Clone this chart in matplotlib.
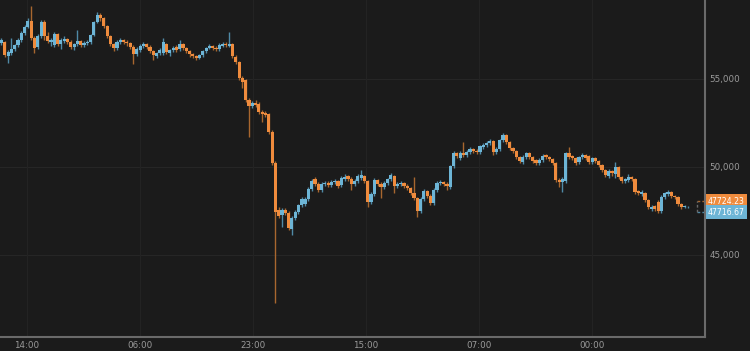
import matplotlib
matplotlib.use("Agg")
import matplotlib.pyplot as plt
import numpy as np

# 30-minute candles (USD)
opens = [
    57040, 57100, 56310, 56480, 56700, 56930, 57210, 57610, 57950, 58290,
    57330, 56820, 57440, 58240, 57440, 57100, 56930, 57560, 56990, 57160,
    57270, 57100, 56820, 56990, 57160, 56930, 57040, 57100, 57500, 58240,
    58630, 58460, 58010, 57440, 56990, 56760, 57100, 57210, 57100, 57040,
    56820, 56420, 56650, 56870, 56990, 56820, 56590, 56310, 56480, 56480,
    56990, 56480, 56650, 56820, 56700, 56990, 56760, 56590, 56420, 56310,
    56190, 56360, 56590, 56760, 56870, 56760, 56700, 56870, 56990, 56870,
    56990, 56250, 55960, 55060, 54940, 53810, 53470, 53640, 53580, 53120,
    53070, 53010, 51990, 50230, 47560, 47270, 47560, 47390, 46480, 47100,
    47440, 47840, 47900, 48180, 48750, 49320, 49030, 48690, 49030, 49090,
    48980, 49150, 49210, 48980, 49320, 49490, 49320, 49030, 49210, 49380,
    49490, 49210, 48010, 48470, 49260, 49030, 48860, 49090, 49320, 49490,
    48920, 49030, 49090, 48920, 48810, 48520, 48240, 47500, 48180, 48640,
    48350, 47960, 48690, 49090, 49150, 49030, 48860, 50060, 50800, 50510,
    50800, 50680, 50850, 51020, 50910, 50850, 51140, 51250, 51360, 51480,
    50850, 51020, 51530, 51820, 51420, 51080, 50910, 50570, 50280, 50570,
    50800, 50570, 50400, 50230, 50400, 50680, 50570, 50460, 50230, 49260,
    49150, 49210, 50800, 50630, 50510, 50280, 50570, 50680, 50630, 50280,
    50510, 50340, 50110, 49830, 49490, 49770, 49600, 50000, 49430, 49210,
    49260, 49430, 49320, 48640, 48470, 48520, 48130, 47610, 47790, 48010,
    47500, 48300, 48470, 48580, 48350, 48300, 47900, 47730, 47716.67,
]
closes = [
    57210, 56360, 56530, 56700, 56930, 57210, 57610, 57950, 58290, 57330,
    56760, 57440, 58240, 57440, 57160, 57210, 57560, 56990, 57210, 57270,
    57100, 56820, 56990, 57160, 56930, 57040, 57100, 57500, 58240, 58630,
    58460, 58010, 57440, 56990, 56760, 57100, 57210, 57100, 57040, 56820,
    56420, 56700, 56870, 56990, 56820, 56590, 56360, 56480, 56650, 57100,
    56530, 56650, 56760, 56650, 56990, 56760, 56590, 56420, 56310, 56190,
    56360, 56590, 56760, 56870, 56760, 56700, 56930, 56990, 56930, 56990,
    56310, 55960, 55060, 54830, 53810, 53470, 53640, 53520, 53120, 53010,
    52950, 51990, 50230, 47440, 47220, 47560, 47390, 46530, 47100, 47440,
    47840, 48180, 48180, 48750, 49210, 49030, 48690, 49030, 49090, 48980,
    49150, 49210, 48920, 49380, 49430, 49320, 49030, 49210, 49490, 49550,
    49210, 48010, 48470, 49260, 49030, 48860, 49090, 49320, 49550, 48920,
    49030, 49090, 48920, 48810, 48520, 48240, 47500, 48180, 48640, 48350,
    47960, 48690, 49090, 49150, 49030, 48920, 50060, 50800, 50630, 50800,
    50680, 50850, 51020, 50910, 50850, 51190, 51250, 51360, 51480, 50850,
    51020, 51530, 51820, 51420, 51080, 50910, 50570, 50340, 50570, 50800,
    50570, 50340, 50230, 50400, 50630, 50570, 50460, 50230, 49260, 49150,
    49320, 50800, 50570, 50510, 50230, 50570, 50680, 50510, 50280, 50510,
    50340, 50110, 49830, 49550, 49770, 49660, 50000, 49430, 49210, 49320,
    49430, 49320, 48580, 48520, 48580, 48130, 47730, 47730, 47610, 47500,
    48300, 48520, 48580, 48350, 48300, 47900, 47730, 47790, 47724.23,
]
highs = [
    57330, 57160, 56650, 57330, 56990, 57330, 57720, 58070, 58460, 59150,
    57440, 57560, 58350, 58350, 57670, 57330, 57670, 57610, 57330, 57440,
    57330, 57210, 57040, 57780, 57210, 57160, 57210, 57560, 58290, 58800,
    58750, 58520, 58070, 57500, 57040, 57210, 57330, 57270, 57210, 57100,
    56930, 56820, 56990, 57100, 57040, 56930, 56650, 56530, 56760, 57330,
    57040, 56700, 56870, 56930, 57210, 57040, 56820, 56650, 56480, 56360,
    56420, 56650, 56820, 56990, 56930, 56870, 57040, 57100, 57100, 57670,
    57040, 56360, 56020, 55170, 55000, 53920, 53750, 53810, 53690, 53240,
    53180, 53070, 52100, 50340, 47730, 47670, 47670, 47500, 47220, 47560,
    47900, 48300, 48300, 48860, 49320, 49430, 49150, 49150, 49210, 49210,
    49260, 49320, 49260, 49490, 49600, 49550, 49430, 49320, 49600, 49830,
    49550, 49260, 48580, 49380, 49320, 49150, 49210, 49380, 49660, 49550,
    49150, 49210, 49150, 49030, 48860, 49430, 48300, 48300, 48750, 48690,
    48470, 48810, 49210, 49260, 49210, 49150, 50110, 50910, 50850, 50910,
    51420, 50970, 51140, 51080, 51020, 51250, 51360, 51480, 51590, 51530,
    51140, 51590, 51930, 51870, 51480, 51140, 50970, 50630, 50680, 50850,
    50850, 50630, 50460, 50510, 50740, 50740, 50630, 50510, 50280, 49380,
    49430, 50850, 51140, 50680, 50570, 50630, 50800, 50740, 50680, 50570,
    50570, 50400, 50170, 49890, 49890, 49830, 50280, 50060, 49490, 49380,
    49600, 49490, 49380, 48690, 48690, 48580, 48180, 47840, 47840, 48130,
    48410, 48580, 48690, 48640, 48410, 48350, 47960, 47840, 47790,
]
lows = [
    56930, 56250, 55910, 56360, 56590, 56820, 57100, 57500, 57900, 57210,
    56480, 56700, 57330, 57210, 57040, 56870, 56820, 56870, 56700, 57040,
    56990, 56700, 56650, 56870, 56820, 56820, 56930, 56990, 57440, 58180,
    58290, 57900, 57330, 56870, 56590, 56650, 56990, 56990, 56870, 56700,
    55850, 56310, 56530, 56760, 56700, 56480, 56080, 56190, 56360, 56360,
    56420, 56310, 56530, 56530, 56590, 56650, 56480, 56250, 56190, 56080,
    56140, 56250, 56480, 56700, 56650, 56590, 56590, 56820, 56820, 56820,
    56190, 55850, 54940, 54490, 53690, 51700, 53350, 53410, 53010, 52560,
    52840, 51870, 50110, 42270, 47100, 46590, 47270, 46420, 46140, 46990,
    47330, 47730, 47790, 48070, 48640, 48920, 48580, 48580, 48920, 48860,
    48860, 49030, 48810, 48860, 49210, 49210, 48690, 48920, 49090, 49260,
    49090, 47730, 47900, 48350, 48920, 48240, 48750, 48980, 49210, 48520,
    48810, 48920, 48810, 48690, 48410, 48130, 47160, 47390, 48070, 48240,
    47840, 47840, 48580, 48980, 48920, 48690, 48750, 49940, 50510, 50400,
    50570, 50570, 50740, 50800, 50740, 50740, 51020, 51140, 51250, 50680,
    50740, 50910, 51420, 51310, 50970, 50800, 50460, 50230, 50170, 50460,
    50460, 50230, 50110, 50110, 50280, 50460, 50340, 50110, 49150, 48860,
    48580, 49090, 50460, 50400, 50110, 50170, 50460, 50400, 50170, 50170,
    50230, 50000, 49720, 49430, 49380, 49490, 49380, 49320, 49090, 49090,
    49150, 49210, 48470, 48410, 48350, 48010, 47610, 47500, 47500, 47390,
    47390, 48180, 48350, 48240, 48180, 47790, 47610, 47670, 47670,
]

last_price = 47724.23
prev_price = 47716.67

y_ticks = [45000, 50000, 55000]
x_tick_labels = ["14:00", "06:00", "23:00", "15:00", "07:00", "00:00"]
x_tick_pos = [7.7, 42.0, 76.2, 110.5, 144.7, 178.9]  # candle index of each label

bg = "#1b1b1b"
up_col = "#6db5d6"
down_col = "#ef8b3d"
up_wick = "#4f8aa6"
down_wick = "#a8672f"

o = np.array(opens)
c = np.array(closes)
h = np.array(highs)
l = np.array(lows)
idx = np.arange(len(o))
up = c >= o

fig = plt.figure(figsize=(7.5, 3.51), dpi=100, facecolor=bg)
ax = fig.add_axes([0.0, 0.04, 0.94, 0.96])
ax.set_facecolor(bg)

# wicks
ax.vlines(idx[up], l[up], h[up], color=up_wick, linewidth=1.0, zorder=2)
ax.vlines(idx[~up], l[~up], h[~up], color=down_wick, linewidth=1.0, zorder=2)

# bodies
body_h = np.abs(c - o)
ax.bar(idx[up], body_h[up], bottom=np.minimum(o, c)[up], width=0.95,
       color=up_col, linewidth=0, zorder=3)
ax.bar(idx[~up], body_h[~up], bottom=np.minimum(o, c)[~up], width=0.95,
       color=down_col, linewidth=0, zorder=3)

ax.set_xlim(-0.45, 213.2)
ax.set_ylim(40344, 59486)

# grid
for yt in y_ticks:
    ax.axhline(yt, color="#262626", linewidth=0.8, zorder=0)
for xt in x_tick_pos:
    ax.axvline(xt, color="#232323", linewidth=0.8, zorder=0)

ax.set_yticks(y_ticks)
ax.set_yticklabels([f"{v:,}" for v in y_ticks])
ax.yaxis.tick_right()
ax.set_xticks(x_tick_pos)
ax.set_xticklabels(x_tick_labels)
ax.tick_params(axis="both", length=0, colors="#9a9a9a", labelsize=6.3)
ax.tick_params(axis="y", pad=3)
ax.tick_params(axis="x", pad=3)

for side in ["top", "left"]:
    ax.spines[side].set_visible(False)
for side in ["right", "bottom"]:
    ax.spines[side].set_color("#6a6a6a")
    ax.spines[side].set_linewidth(1.5)

# current price markers: dashed bracket and labels
n = len(o)
ax.plot([n + 1.7, n + 5], [last_price + 350, last_price + 350], color=down_wick,
        linestyle=(0, (2, 1.5)), linewidth=1.0, clip_on=False)
ax.plot([n + 1.7, n + 5], [prev_price - 280, prev_price - 280], color=up_wick,
        linestyle=(0, (2, 1.5)), linewidth=1.0, clip_on=False)
ax.plot([n + 1.7, n + 1.7], [prev_price - 280, last_price + 350], color="#6a6a6a",
        linestyle=(0, (2, 1.5)), linewidth=1.0, clip_on=False)

ax.annotate(f"{last_price:.2f}", xy=(1.0, last_price), xycoords=("axes fraction", "data"),
            xytext=(2.2, 4.3), textcoords="offset points", ha="left", va="center",
            fontsize=5.6, color="white",
            bbox=dict(boxstyle="square,pad=0.3", fc=down_col, ec="none"))
ax.annotate(f"{prev_price:.2f}", xy=(1.0, prev_price), xycoords=("axes fraction", "data"),
            xytext=(2.2, -3.5), textcoords="offset points", ha="left", va="center",
            fontsize=5.6, color="white",
            bbox=dict(boxstyle="square,pad=0.3", fc=up_col, ec="none"))

fig.savefig("out.png", dpi=100, facecolor=bg)
